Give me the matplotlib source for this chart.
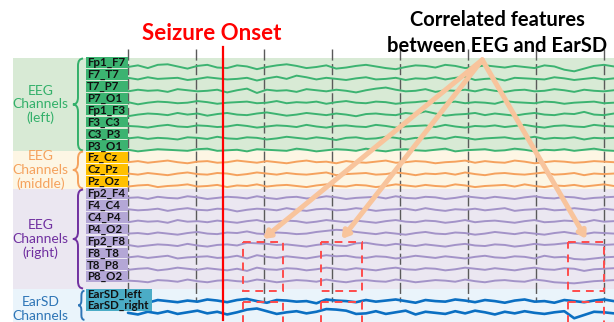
import matplotlib.pyplot as plt
from matplotlib.patches import Rectangle, PathPatch
from matplotlib.path import Path
import numpy as np

plt.rcParams['font.family'] = ['Lato', 'DejaVu Sans']

# channel names per group
left_ch = ["Fp1_F7", "F7_T7", "T7_P7", "P7_O1", "Fp1_F3", "F3_C3", "C3_P3", "P3_O1"]
middle_ch = ["Fz_Cz", "Cz_Pz", "Pz_Oz"]
right_ch = ["Fp2_F4", "F4_C4", "C4_P4", "P4_O2", "Fp2_F8", "F8_T8", "T8_P8", "P8_O2"]
earsd_ch = ["EarSD_left", "EarSD_right"]

duration = 7.14     # seconds on screen
onset = 1.4         # seizure onset (s)
grid_secs = [0, 1, 2, 3, 4, 5, 6, 7]
highlights = [(1.69, 2.28), (2.84, 3.44), (6.47, 7.0)]   # correlated windows (s)

# traces (uV, 50 samples over the window)
fp1_f7 = [0, 3, -2, 4, 5, 1, -3, 2, 4, -1, -2, 3, 1, -4, 0, 3, 5, 2, -2, 0, 3, -3, -1, 2, 4, 1, -2, -4, 0, 3, 2, -1, 4, 2, -2, 0, 3, 1, -1, 2, 0, -2, 3, 1, -5, -8, -3, 2, 4, 1]
f7_t7 = [2, -1, 3, 0, 1, 2, -2, 0, 3, 1, -1, 0, 2, -3, 1, 4, 0, 6, 3, -1, 2, 0, -2, 1, 3, -1, 0, 2, -2, 1, 0, 3, -1, 2, 4, -2, 0, 1, -3, 2, 1, 0, -1, 3, 1, -2, 0, 2, -1, 1]
t7_p7 = [-1, 2, 0, 1, -2, 3, 1, -1, 0, 2, -3, 1, 4, -4, 2, 0, 1, -2, 3, 1, -1, 2, 0, -3, 1, 4, 6, 2, -1, 0, 3, -2, 1, 0, 2, -1, 3, 0, -2, 1, 2, -1, 0, 3, 1, -2, 2, 0, -1, 1]
p7_o1 = [1, -3, 0, 2, 1, -1, 0, 3, 1, -2, 0, 1, 2, -1, 0, 3, -1, 1, 0, 2, -2, 1, 3, 0, -1, 2, 1, -2, 0, 1, 3, -1, 0, 2, -1, 1, 0, -2, 3, 1, 0, -1, 2, 1, -2, 0, 1, 2, -1, 0]
fp1_f3 = [-3, 0, 2, 1, -1, 3, 0, 2, -2, 1, 3, 0, -1, 2, 4, 1, -2, 0, 3, 1, -1, 2, 0, -3, 1, 2, 0, -1, 3, 1, 6, 2, -2, 0, 1, 3, -1, 2, 0, -2, 1, 3, 0, -1, 2, 1, 5, 0, -1, 2]
f3_c3 = [1, 0, -2, 1, 3, 0, -1, 2, 1, -1, 0, 3, 1, -2, 0, 2, 1, -1, 3, 0, -2, 1, 2, 0, -1, 3, 1, -2, 0, 1, 2, -1, 3, 0, -2, 1, 0, 2, -1, 1, 3, 0, -2, 1, 2, 0, -1, 3, 1, 0]
c3_p3 = [0, 2, -1, 1, 0, -2, 2, 1, -1, 3, 0, -1, 2, 1, -2, 0, 3, 1, -1, 2, 0, -3, 1, 2, -1, 0, 3, 1, -2, 1, 0, 2, -1, 3, 1, -2, 0, 1, 2, -1, 0, 3, -1, 1, 0, 2, -2, 1, 0, 1]
p3_o1 = [1, -2, 0, 2, 1, 0, -1, 2, 3, -1, 0, 1, -2, 2, 1, 0, -1, 3, 1, -2, 0, 2, 1, -1, 3, 0, -2, 1, 2, 0, -1, 1, 3, -2, 0, 1, 2, -1, 0, 3, 1, -2, 1, 0, 2, -1, 1, 3, 0, -1]

fz_cz = [0, 2, -1, 1, 3, 0, -2, 1, 2, -1, 0, 3, 1, -1, 2, 0, -2, 1, 3, 0, 1, -2, 2, 0, -1, 1, 3, -1, 0, 2, 1, -2, 0, 1, 3, -1, 2, 0, -1, 3, 1, -2, 0, 2, 1, -1, 0, 2, 1, 0]
cz_pz = [1, -1, 2, 0, -2, 1, 3, 0, -1, 2, 1, -2, 0, 3, 1, -1, 2, 0, -1, 1, 3, -2, 0, 1, 2, -1, 0, 3, 1, -2, 1, 0, 2, -1, 3, 0, -2, 1, 2, 0, -1, 1, 3, -1, 0, 2, -2, 1, 0, 1]
pz_oz = [-1, 1, 2, -2, 0, 1, 3, -1, 0, 2, -2, 1, 0, 3, -1, 1, 2, 0, -2, 1, 3, 0, -1, 2, 1, -2, 0, 3, 1, -1, 2, 0, -1, 3, 1, -2, 0, 1, 2, -1, 3, 0, -2, 1, 0, 2, -1, 1, 3, 0]

fp2_f4 = [0, 1, -2, 2, 0, -1, 3, 1, -2, 0, 2, 1, -1, 3, 0, -2, 1, 2, -1, 0, 3, 1, -2, 0, 1, 2, -1, 3, 0, -1, 2, 1, -2, 0, 3, 1, -1, 2, 0, -2, 1, 3, 0, -1, 2, 1, -2, 0, 1, 2]
f4_c4 = [1, -1, 0, 2, -2, 1, 3, 0, -1, 2, 1, -3, 0, 2, 1, -1, 3, 0, -2, 1, 2, -1, 0, 3, 1, -2, 0, 1, 2, -1, 3, 0, -2, 1, 0, 2, -1, 1, 3, -2, 0, 1, 2, -1, 0, 3, 1, -1, 2, 0]
c4_p4 = [-1, 2, 0, 1, -2, 3, 0, 1, -1, 2, 0, -2, 1, 3, -1, 0, 2, 1, -2, 0, 3, 1, -1, 2, 0, -2, 1, 3, 0, -1, 2, 1, -2, 0, 3, -1, 1, 2, 0, -2, 1, 3, -1, 0, 2, 1, -1, 3, 0, 1]
p4_o2 = [0, 1, -1, 2, 0, -2, 1, 3, 0, -1, 2, 1, 4, 0, -1, 2, 1, -1, 0, 3, 5, 7, 6, 3, 1, -1, 2, 0, -2, 1, 3, 0, -1, 2, 1, -2, 0, 3, 1, -1, 2, 0, -2, 1, 3, 0, -1, 2, 1, 0]
fp2_f8 = [1, -2, 0, 2, 1, -1, 3, 0, -2, 1, 2, 0, 5, 4, 3, 1, 2, 0, -2, 1, 3, 0, -1, 4, 5, 2, 0, 3, 1, -1, 2, 0, -2, 1, 3, 0, -1, 2, 1, -2, 0, 3, 1, 2, 4, 5, 3, 2, 1, 2]
f8_t8 = [0, 2, -1, 1, 3, -2, 0, 1, 2, -1, 0, 3, -2, 4, 1, -1, 2, 0, -2, 1, 4, 2, 3, 0, -1, 2, 1, -2, 0, 3, 1, -1, 2, 0, -2, 1, 3, 0, -1, 2, 1, -2, 3, 0, 1, -3, -4, -2, 0, 1]
t8_p8 = [-1, 1, 2, -2, 0, 3, 1, -1, 2, 0, -2, 1, -3, 3, 0, -1, 2, 1, -2, 0, 3, 1, -1, 2, 0, -2, 1, 3, 0, -1, 2, 1, -2, 0, 3, 1, -1, 2, 0, -2, 1, 3, 0, -1, 2, 1, -3, 0, 1, 2]
p8_o2 = [1, 0, -2, 2, 1, -1, 3, 0, -2, 1, 2, 0, -1, 3, 1, -2, 0, 2, 1, -1, 3, 0, -2, 1, 2, 0, -1, 3, 1, -2, 0, 2, 1, -1, 3, 0, -2, 1, 2, 0, -1, 3, 1, -2, -3, -4, -2, 0, 1, 2]

earsd_left = [0, 1, -2, 3, 1, -1, 2, 0, 4, 2, -1, 3, 5, 1, -2, 3, 2, 0, 1, -3, 4, 2, 1, -1, 3, 0, 2, 4, 1, -2, 3, 1, 0, 4, 2, -1, 3, 1, -2, 2, 4, 0, 1, -2, 3, 1, -1, 2, 4, 1]
earsd_right = [0, -3, 2, -1, 3, -2, 1, 4, -1, 2, -3, 1, 6, 8, 3, -2, 1, 3, -1, 2, 7, 6, 4, -2, -1, 3, -2, 1, 4, -3, 2, 0, -2, 3, -1, 4, 1, -3, 2, -1, 3, 0, -2, 1, 3, -10, -4, 2, 1, -1]

eeg_traces = [fp1_f7, f7_t7, t7_p7, p7_o1, fp1_f3, f3_c3, c3_p3, p3_o1,
              fz_cz, cz_pz, pz_oz,
              fp2_f4, f4_c4, c4_p4, p4_o2, fp2_f8, f8_t8, t8_p8, p8_o2]
ear_traces = [earsd_left, earsd_right]

# style per group: (trace, label box, text, band)
COL = {
    "left":   ("#3cb371", "#3cb371", "#33b06a", "#d8ead5"),
    "middle": ("#f5a25e", "#ffc000", "#f5a25e", "#fdf6e4"),
    "right":  ("#a393c8", "#b4a7d6", "#7030a0", "#ebe7f1"),
    "ear":    ("#0b6fc2", "#4bacc6", "#2e75b6", "#eaf4fb"),
}
UV_PER_ROW = 22.0

fig = plt.figure(figsize=(6.14, 3.22), dpi=100)
ax = fig.add_axes([0, 0, 1, 1])
ax.set_xlim(-1.881, 7.142)
ax.set_ylim(21.43, -5.63)
ax.axis("off")

# group layout: (key, channels, rows, label offset, band top, band bottom, title)
eeg_rows = np.arange(19)
ear_rows = [19.72, 20.66]
groups = [
    ("left", left_ch, eeg_rows[0:8], 0.38, -0.76, 7.06, "EEG\nChannels\n(left)"),
    ("middle", middle_ch, eeg_rows[8:11], 0.38, 7.06, 10.25, "EEG\nChannels\n(middle)"),
    ("right", right_ch, eeg_rows[11:19], 0.38, 10.25, 18.66, "EEG\nChannels\n(right)"),
    ("ear", earsd_ch, ear_rows, 0.62, 18.66, 21.6, "EarSD\nChannels"),
]

t = np.linspace(0, duration, len(fp1_f7))
all_traces = eeg_traces + ear_traces


def brace(x, y0, y1, w, r, color):
    xm = x + w / 2
    xr = x + w
    ym = (y0 + y1) / 2
    verts = [(xr, y0), (xm, y0), (xm, y0 + r), (xm, ym - r), (xm, ym), (x, ym),
             (xm, ym), (xm, ym + r), (xm, y1 - r), (xm, y1), (xr, y1)]
    codes = [Path.MOVETO, Path.CURVE3, Path.CURVE3, Path.LINETO, Path.CURVE3, Path.CURVE3,
             Path.CURVE3, Path.CURVE3, Path.LINETO, Path.CURVE3, Path.CURVE3]
    ax.add_patch(PathPatch(Path(verts, codes), fill=False, ec=color, lw=1.4, zorder=6))


i_tr = 0
for key, chans, rows, loff, b0, b1, title in groups:
    tc, bc, txc, bg = COL[key]
    ax.add_patch(Rectangle((-1.69, b0), 7.142 + 1.69, b1 - b0, fc=bg, ec="none", zorder=0))
    box_w = 0.97 if key == "ear" else 0.618
    for ch, row in zip(chans, rows):
        y = row - np.array(all_traces[i_tr]) / UV_PER_ROW
        ax.plot(t, y, color=tc, lw=1.9 if key == "ear" else 1.4, zorder=2, solid_capstyle="round")
        ax.add_patch(Rectangle((-0.618, row - loff - 0.45), box_w, 0.9, fc=bc, ec="none", zorder=5))
        ax.text(-0.6, row - loff + 0.02, ch, fontsize=8.3, fontweight="bold", color="#111111",
                va="center", ha="left", zorder=6)
        i_tr += 1
    mid = (b0 + b1) / 2
    ax.text(-1.29, mid + (0.2 if key == "ear" else 0), title, color=txc, fontsize=10,
            ha="center", va="center", linespacing=1.15, zorder=6)
    if key == "ear":
        brace(-0.73, b0 + 0.15, b1 - 0.35, 0.09, 0.4, txc)
    else:
        brace(-0.81, b0 + 0.05, b1 - 0.05, 0.15, 0.6, txc)

# one-second grid
for s in grid_secs:
    ax.plot([s, s], [-1.51, 19.75], color="#5a5a5a", lw=1.0, dashes=(8, 2.5), zorder=1)

# seizure onset
ax.plot([onset, onset], [-1.7, 21.25], color="#ff0000", lw=1.6, zorder=3)

# correlated-feature windows
for a, b in highlights:
    for y0, y1 in [(14.7, 18.8), (19.75, 22.5)]:
        ax.add_patch(Rectangle((a, y0), b - a, y1 - y0, fill=False, ec="#ff4b4b", lw=1.4,
                               ls=(0, (4, 3)), zorder=4))
    ax.annotate("", xy=((a + b) / 2, 14.45), xytext=(5.206, -0.6),
                arrowprops=dict(arrowstyle="-|>,head_length=0.4,head_width=0.25",
                                color="#f8c49c", lw=3.6, shrinkA=0, shrinkB=0), zorder=7)

fig.text(212 / 614, 1 - 33 / 322, "Seizure Onset", color="#ff0000", fontsize=16,
         fontweight="bold", ha="center", va="center")
fig.text(497 / 614, 1 - 33 / 322, "Correlated features\nbetween EEG and EarSD", color="black",
         fontsize=14.5, fontweight="bold", ha="center", va="center", linespacing=1.4)

fig.savefig("out.png", dpi=100)
